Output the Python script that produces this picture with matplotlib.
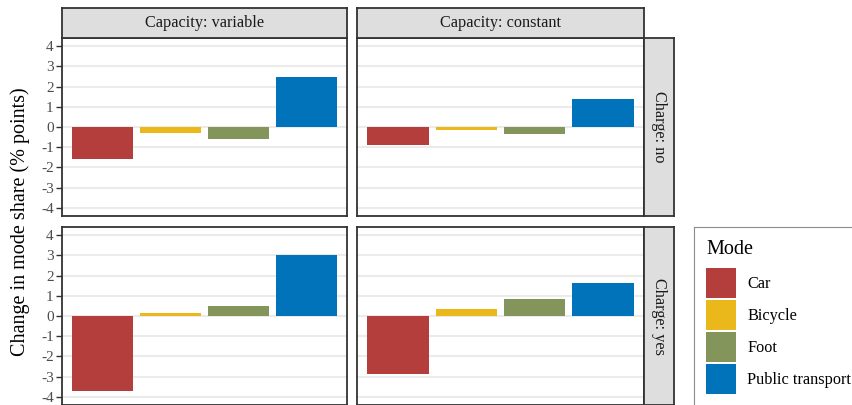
import matplotlib
matplotlib.use("Agg")
import matplotlib.pyplot as plt
from matplotlib.patches import Rectangle

plt.rcParams["font.family"] = ["Liberation Serif", "DejaVu Serif"]
plt.rcParams["axes.unicode_minus"] = False

# Data
modes = ["Car", "Bicycle", "Foot", "Public transport"]
mode_colors = ["#B33E3C", "#EAB81B", "#83955A", "#0073BB"]
capacity_levels = ["variable", "constant"]
charge_levels = ["no", "yes"]
change_var_no = [-1.56, -0.32, -0.61, 2.45]
change_const_no = [-0.91, -0.17, -0.37, 1.40]
change_var_yes = [-3.69, 0.15, 0.49, 3.01]
change_const_yes = [-2.85, 0.35, 0.84, 1.63]
y_ticks = [-4, -3, -2, -1, 0, 1, 2, 3, 4]

values = {
    ("no", "variable"): change_var_no,
    ("no", "constant"): change_const_no,
    ("yes", "variable"): change_var_yes,
    ("yes", "constant"): change_const_yes,
}

W, H = 852, 405
fig = plt.figure(figsize=(W / 100, H / 100), dpi=100)


def px_axes(x0, y0, x1, y1):
    """Add axes given pixel box (top-left origin)."""
    return fig.add_axes([x0 / W, 1 - y1 / H, (x1 - x0) / W, (y1 - y0) / H])


col_x = [(62, 347), (357, 644)]
row_y = [(38, 216), (227, 405)]
border_col = "#333333"
strip_fill = "#DEDEDE"
text_size = 11.7

for r, charge in enumerate(charge_levels):
    for c, cap in enumerate(capacity_levels):
        x0, x1 = col_x[c]
        y0, y1 = row_y[r]
        ax = px_axes(x0, y0, x1, y1)
        vals = values[(charge, cap)]
        xs = list(range(1, len(modes) + 1))
        ax.bar(xs, vals, width=0.9, color=mode_colors, zorder=2)
        ax.set_xlim(0.4, 4.6)
        ax.set_ylim(-4.4, 4.4)
        ax.set_yticks(y_ticks)
        ax.yaxis.grid(True, color="#EBEBEB", linewidth=1.5, zorder=0)
        ax.set_axisbelow(True)
        ax.set_xticks([])
        for s in ax.spines.values():
            s.set_color(border_col)
            s.set_linewidth(1.3)
        if c == 0:
            ax.set_yticklabels([str(t) for t in y_ticks])
            ax.tick_params(axis="y", length=4, width=1.0, color=border_col,
                           labelsize=11, labelcolor="#4D4D4D", pad=2)
        else:
            ax.tick_params(axis="y", length=0, labelleft=False)

# Column strips
for c, cap in enumerate(capacity_levels):
    x0, x1 = col_x[c]
    sax = px_axes(x0, 8, x1, 38)
    sax.set_facecolor(strip_fill)
    sax.set_xticks([]); sax.set_yticks([])
    for s in sax.spines.values():
        s.set_color(border_col); s.set_linewidth(1.3)
    sax.text(0.5, 0.5, f"Capacity: {cap}", ha="center", va="center",
             fontsize=text_size, color="#1A1A1A", transform=sax.transAxes)

# Row strips
for r, charge in enumerate(charge_levels):
    y0, y1 = row_y[r]
    sax = px_axes(644, y0, 674, y1)
    sax.set_facecolor(strip_fill)
    sax.set_xticks([]); sax.set_yticks([])
    for s in sax.spines.values():
        s.set_color(border_col); s.set_linewidth(1.3)
    sax.text(0.5, 0.5, f"Charge: {charge}", ha="center", va="center",
             rotation=-90, fontsize=text_size, color="#1A1A1A",
             transform=sax.transAxes)

# Shared y label
fig.text(20 / W, 1 - 222 / H, "Change in mode share (% points)", rotation=90,
         ha="center", va="center", fontsize=14.5, color="black")

# Legend box (pixel-unit coordinates inside its own axes)
lx0, ly0, lx1, ly1 = 694, 227, 870, 420
lax = px_axes(lx0, ly0, lx1, ly1)
lax.set_xlim(lx0, lx1)
lax.set_ylim(ly1, ly0)
lax.set_xticks([]); lax.set_yticks([])
for s in lax.spines.values():
    s.set_color("#8C8C8C"); s.set_linewidth(0.8)
lax.text(706, 254, "Mode", ha="left", va="baseline", fontsize=14.5,
         color="black")
key_size, key_pitch, key_top = 30, 32, 268
for i, (name, col) in enumerate(zip(modes, mode_colors)):
    top = key_top + i * key_pitch
    lax.add_patch(Rectangle((706, top), key_size, key_size, facecolor=col,
                            edgecolor="none"))
    lax.text(747, top + key_size / 2 + 5, name, ha="left", va="baseline",
             fontsize=text_size, color="black")

fig.savefig("out.png", dpi=100)
